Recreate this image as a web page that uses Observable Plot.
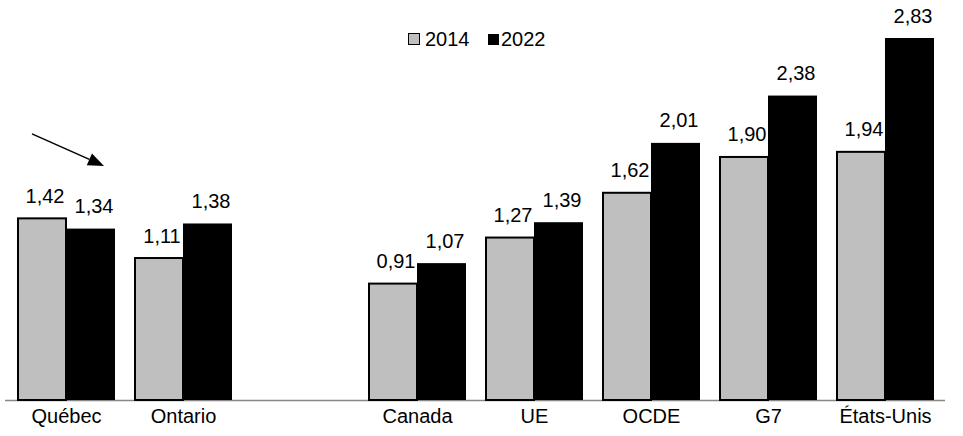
<!DOCTYPE html>
<html>
<head>
<meta charset="utf-8">
<script src="https://cdn.jsdelivr.net/npm/d3@7"></script>
<script src="https://cdn.jsdelivr.net/npm/@observablehq/plot@0.6"></script>
<style>
  body { margin: 0; background: #fff; }
  #wrap { position: relative; width: 963px; height: 436px; font-family: "Liberation Sans", Arial, sans-serif; }
  #legend { position: absolute; left: 0; top: 0; width: 963px; height: 60px; pointer-events: none; }
  #legend .sw { position: absolute; box-sizing: border-box; }
  #legend .lb { position: absolute; font-size: 20px; line-height: 20px; color: #000; }
</style>
</head>
<body>
<div id="wrap"><div id="legend"></div></div>
<script>
// Regions in display order; the blank entry separates provinces from the comparison group
const regions = ["Québec", "Ontario", " ", "Canada", "UE", "OCDE", "G7", "États-Unis"];
const years = ["2014", "2022"];
const values2014 = [1.42, 1.11, null, 0.91, 1.27, 1.62, 1.90, 1.94];
const values2022 = [1.34, 1.38, null, 1.07, 1.39, 2.01, 2.38, 2.83];

// Arrow pointing at Québec (value-axis endpoints)
const arrowFrom = {region: "Québec", value: 2.08};
const arrowTo = {region: "Québec", value: 1.83};

const W = 963, H = 436;
const marginLeft = 5, marginRight = 18, marginTop = 38, marginBottom = 36;
const xOptions = {
  type: "band",
  domain: regions,
  range: [marginLeft, W - marginRight],
  paddingInner: 0.166,
  paddingOuter: 0.083
};
const bw = Plot.scale({x: xOptions}).bandwidth;

const rows = (vals) => regions
  .map((region, i) => ({region, value: vals[i]}))
  .filter(d => d.value != null);
const rows2014 = rows(values2014);
const rows2022 = rows(values2022);

const fmt = v => d3.format(".2f")(v).replace(".", ",");

function arrowMark(index, {x, y}) {
  const x1 = x(arrowFrom.region) + bw / 2 - 34, y1 = y(arrowFrom.value);
  const x2 = x(arrowTo.region) + bw / 2 + 38, y2 = y(arrowTo.value);
  const ang = Math.atan2(y2 - y1, x2 - x1);
  const len = 16, half = 6.5;
  const bx = x2 - len * Math.cos(ang), by = y2 - len * Math.sin(ang);
  const px = -Math.sin(ang) * half, py = Math.cos(ang) * half;
  const g = d3.create("svg:g");
  g.append("line")
    .attr("x1", x1).attr("y1", y1).attr("x2", bx).attr("y2", by)
    .attr("stroke", "#000").attr("stroke-width", 1.5);
  g.append("path")
    .attr("d", `M${x2},${y2}L${bx + px},${by + py}L${bx - px},${by - py}Z`)
    .attr("fill", "#000");
  return g.node();
}

const chart = Plot.plot({
  width: W,
  height: H,
  marginLeft, marginRight, marginTop, marginBottom,
  style: {fontFamily: "Liberation Sans, Arial, sans-serif", fontSize: "20px", color: "#000", background: "#fff"},
  x: {...xOptions, label: null, tickSize: 0, tickPadding: 8, tickFormat: d => d.trim()},
  y: {domain: [0, 2.83], axis: null},
  marks: [
    Plot.ruleY([0], {stroke: "#888", strokeWidth: 1.5}),
    Plot.barY(rows2014, {x: "region", y: "value", fill: "#bfbfbf", stroke: "#000", strokeWidth: 2, insetLeft: 1, insetRight: bw / 2}),
    Plot.barY(rows2022, {x: "region", y: "value", fill: "#000", insetLeft: bw / 2}),
    Plot.text(rows2014, {x: "region", y: "value", text: d => fmt(d.value), dx: -bw / 4 + 3, dy: -16, lineAnchor: "bottom", fill: "#000", fontSize: 20}),
    Plot.text(rows2022, {x: "region", y: "value", text: d => fmt(d.value), dx: bw / 4 + 3, dy: -16, lineAnchor: "bottom", fill: "#000", fontSize: 20}),
    arrowMark
  ]
});
document.getElementById("wrap").prepend(chart);

// Legend drawn over the plot area
const legend = d3.select("#legend");
const items = [
  {year: years[0], fill: "#bfbfbf", border: "1.5px solid #000", left: 408, size: 12, textLeft: 425},
  {year: years[1], fill: "#000", border: "none", left: 488, size: 11, textLeft: 501}
];
for (const it of items) {
  legend.append("div").attr("class", "sw")
    .style("left", it.left + "px").style("top", (45 - it.size) + "px")
    .style("width", it.size + "px").style("height", it.size + "px")
    .style("background", it.fill).style("border", it.border);
  legend.append("div").attr("class", "lb")
    .style("left", it.textLeft + "px").style("top", "29px")
    .text(it.year);
}
</script>
</body>
</html>
